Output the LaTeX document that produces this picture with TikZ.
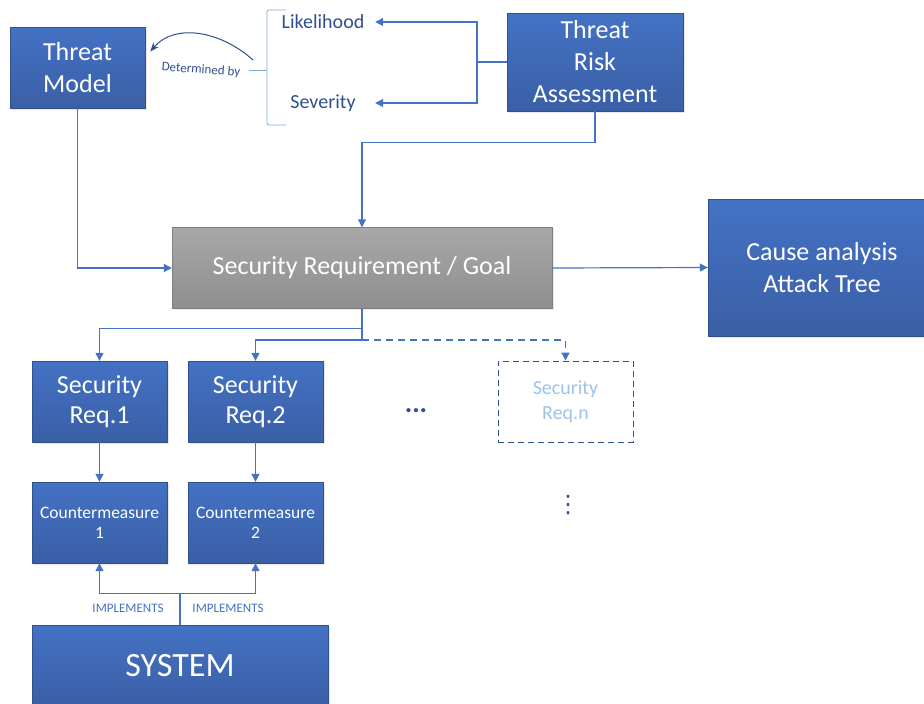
\documentclass[tikz,border=0pt]{standalone}
\usepackage{fontspec}
\setmainfont{Carlito}
\newfontfamily\dotsfont{DejaVu Sans}
\usetikzlibrary{arrows.meta,positioning,shadows}
\definecolor{boxblue}{HTML}{4472C4}
\definecolor{boxbluedk}{HTML}{3A5FA6}
\definecolor{boxedge}{HTML}{2F528F}
\definecolor{boxgray}{HTML}{A8A8A8}
\definecolor{boxgraydk}{HTML}{8E8E8E}
\definecolor{grayedge}{HTML}{7F7F7F}
\definecolor{linkblue}{HTML}{4472C4}
\definecolor{navy}{HTML}{2F4F8F}
\definecolor{bracecol}{HTML}{7FA6DA}
\definecolor{faintblue}{HTML}{9DC3E6}

\tikzset{
  bluebox/.style={rectangle, draw=boxedge, top color=boxblue, bottom color=boxbluedk,
    text=white, align=center, inner sep=2pt,
    drop shadow={opacity=0.18, shadow xshift=1.5pt, shadow yshift=-1.5pt}},
  graybox/.style={bluebox, draw=grayedge, top color=boxgray, bottom color=boxgraydk},
  dashbox/.style={rectangle, draw=boxedge, dash pattern=on 6pt off 4pt, line width=0.9pt,
    text=faintblue, align=center},
  link/.style={draw=linkblue, line width=1.2pt, -{Triangle[length=8pt,width=8pt]}},
  big/.style={font=\fontsize{26}{32}\selectfont},
  mid/.style={font=\fontsize{20}{24}\selectfont},
  cmfont/.style={font=\fontsize{17.5}{20}\selectfont},
  tiny/.style={font=\fontsize{13}{15}\selectfont},
}

\begin{document}
\begin{tikzpicture}[x=1pt,y=-1pt]
\useasboundingbox (0,0) rectangle (924,704);
% ----- top row -----
\node[bluebox,big,minimum width=135pt,minimum height=81pt] (tm) at (77.5,67.5) {Threat\\Model};
\node[bluebox,big,minimum width=176pt,minimum height=98pt] (tra) at (595,62) {Threat\\Risk\\Assessment};
\node[mid,text=navy,minimum width=104pt,inner sep=0pt] (lik) at (323,22) {Likelihood};
\node[mid,text=navy,minimum width=104pt,inner sep=0pt] (sev) at (323,103) {Severity};
\draw[bracecol,line width=0.8pt,rounded corners=2pt] (286,10) -- (267,10) -- (267,125) -- (286,125);
\draw[bracecol,line width=0.8pt] (267,70) -- (249,70);
\coordinate (brtip) at (253,60);
\node[tiny,text=navy,rotate=-4] (det) at (201,70) {Determined by};
\draw[navy,line width=1pt,-{Stealth[length=9pt,width=7pt]}]
  (brtip) .. controls (222,32) and (176,22) .. ([xshift=5pt,yshift=16pt]tm.east);
\coordinate (tj) at (477,62);
\draw[link] (tra.west) -- (tj) |- (lik.east);
\draw[link] (tj) |- (sev.east);
% ----- middle row -----
\node[graybox,big,minimum width=380pt,minimum height=81pt] (sreq) at (362,268) {Security Requirement / Goal};
\node[bluebox,big,minimum width=228pt,minimum height=137pt] (cat) at (822,267.5) {Cause analysis\\Attack Tree};
\draw[link] (tra.south) -- ++(0,31) -| (sreq.north);
\draw[link] (tm.south) |- (sreq.west);
\draw[link] (sreq.east) -- (cat.west);
% ----- requirements -----
\node[bluebox,font=\fontsize{26}{30}\selectfont,minimum width=135pt,minimum height=81pt] (r1) at (99.5,401.5) {Security\\Req.1};
\node[bluebox,font=\fontsize{26}{30}\selectfont,minimum width=135pt,minimum height=81pt] (r2) at (255.5,401.5) {Security\\Req.2};
\node[dashbox,font=\fontsize{20}{25}\selectfont,minimum width=135pt,minimum height=81pt] (rn) at (565.5,401.5) {Security\\Req.n};
\node[text=navy,font=\fontsize{28}{28}\selectfont\bfseries] (hdots) at (416,411) {...};
\node[text=navy,font=\fontsize{24}{24}\dotsfont] (vdots) at (568,505) {⋮};
\coordinate (b2) at (362,340);
\draw[link] (sreq.south) -- ++(0,20) -| (r1.north);
\draw[link] (sreq.south) -- (b2) -| (r2.north);
\draw[link,dash pattern=on 7pt off 5pt] (b2) -| (rn.north);
% ----- countermeasures -----
\node[bluebox,cmfont,minimum width=135pt,minimum height=81pt] (c1) at (99.5,522.5) {Countermeasure\\1};
\node[bluebox,cmfont,minimum width=135pt,minimum height=81pt] (c2) at (255.5,522.5) {Countermeasure\\2};
\draw[link] (r1.south) -- (c1.north);
\draw[link] (r2.south) -- (c2.north);
% ----- system -----
\node[bluebox,font=\fontsize{34}{40}\selectfont,minimum width=296pt,minimum height=82pt] (sys) at (180,666) {SYSTEM};
\draw[link] (sys.north) -- ++(0,-31) -| (c1.south);
\draw[link] (sys.north) -- ++(0,-31) -| (c2.south);
\node[tiny,text=linkblue] (imp1) at (128,608) {IMPLEMENTS};
\node[tiny,text=linkblue] (imp2) at (228,608) {IMPLEMENTS};
\end{tikzpicture}
\end{document}
